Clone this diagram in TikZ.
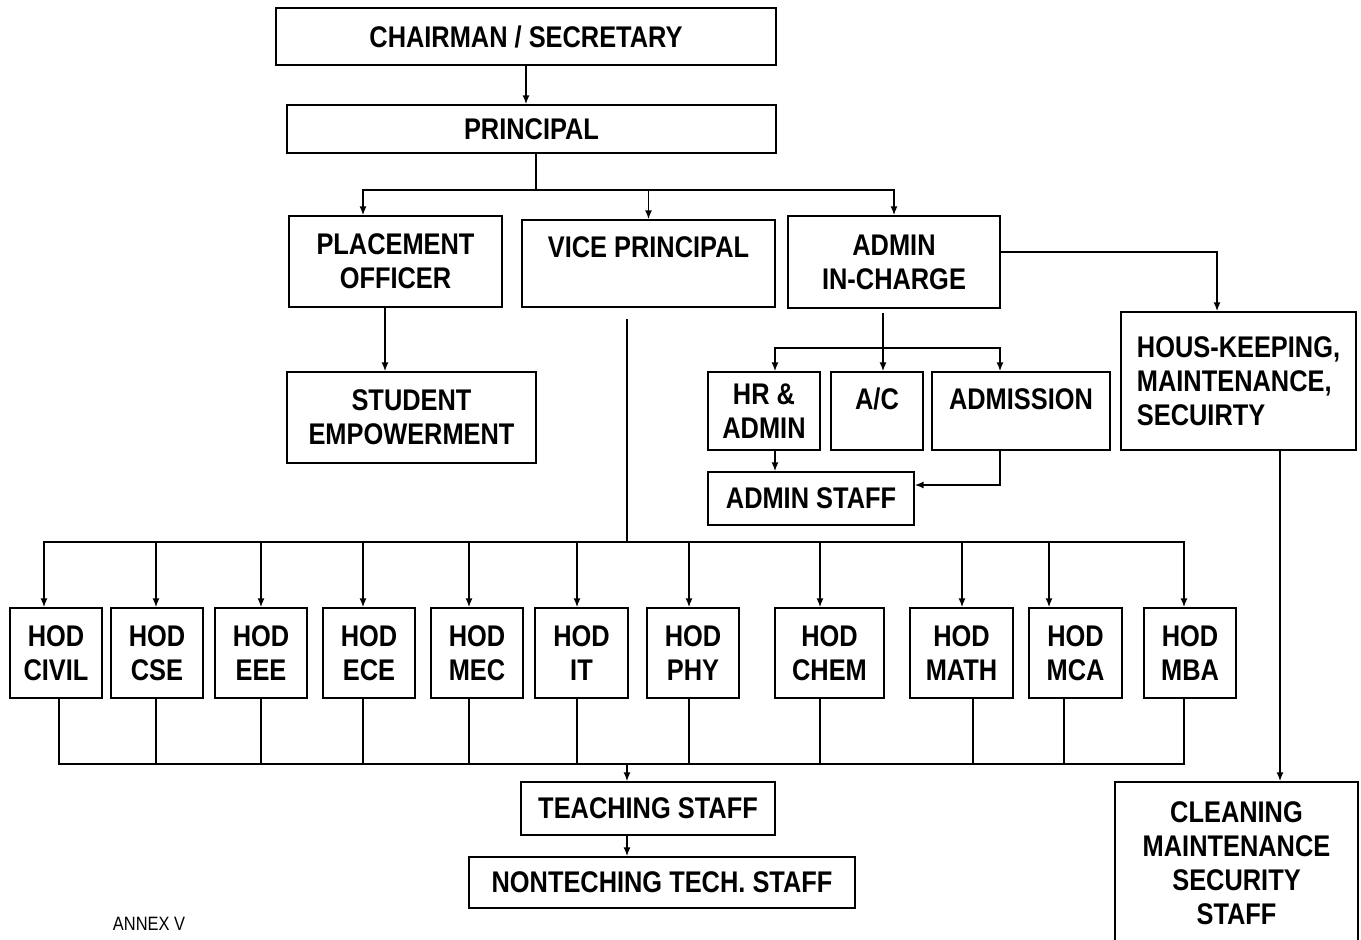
\documentclass[tikz,border=0pt]{standalone}
\usepackage{fontspec}
\newfontfamily\orgfont{Liberation Sans}[FakeStretch=0.85]
\usetikzlibrary{arrows.meta,calc}
\newcommand{\pxu}{0.02cm}
\tikzset{
    box/.style={draw, line width=1pt, inner sep=0pt, align=center, font=\orgfont\bfseries\fontsize{17}{19.3}\selectfont},
    sz/.style 2 args={minimum width=#1*\pxu, minimum height=#2*\pxu},
    line/.style={line width=0.8pt},
    arr/.style={line width=0.8pt, -{Latex[length=5pt,width=4pt]}},
}
\begin{document}
\begin{tikzpicture}[x=0.02cm, y=-0.02cm]
            \useasboundingbox (0,0) rectangle (1361,939);
            \node[box, sz={500}{57}] (chair) at (526,36.5) {CHAIRMAN / SECRETARY};
            \node[box, sz={489}{48}] (princ) at (531.5,129) {PRINCIPAL};
            \node[box, sz={213}{91}] (place) at (395.5,261.5) {PLACEMENT\\OFFICER};
            \node[box, sz={253}{87}, text height=0.74cm, text depth=1cm] (vice) at (648.5,263.5) {VICE PRINCIPAL};
            \node[box, sz={212}{92}] (admin) at (894,262) {ADMIN\\IN-CHARGE};
            \node[box, sz={235}{138}, align=left] (house) at (1238.5,381) {HOUS-KEEPING,\\MAINTENANCE,\\SECUIRTY};
            \node[box, sz={249}{91}] (stud) at (411.5,417.5) {STUDENT\\EMPOWERMENT};
            \node[box, sz={112}{78}] (hr) at (764,411) {HR \&\\ADMIN};
            \node[box, sz={92}{78}, text height=0.74cm, text depth=0.82cm] (ac) at (877,411) {A/C};
            \node[box, sz={178}{78}, text height=0.74cm, text depth=0.82cm] (adms) at (1021,411) {ADMISSION};
            \node[box, sz={206}{53}] (astaff) at (811,498.5) {ADMIN STAFF};
            \node[box, sz={254}{53}] (teach) at (648,808.5) {TEACHING STAFF};
            \node[box, sz={386}{51}] (nontech) at (662,882.5) {NONTECHING TECH. STAFF};
            \node[box, sz={243}{163}] (clean) at (1236.5,863.5) {CLEANING\\MAINTENANCE\\SECURITY\\STAFF};
            \node[font=\orgfont\fontsize{11}{13}\selectfont, inner sep=0pt] (annex) at (149,924) {ANNEX V};

            \draw[arr] (chair.south) -- (chair.south |- princ.north);
            \coordinate (pbus) at (536,190);
            \draw[line] (princ.south -| pbus) -- (pbus);
            \draw[arr] (pbus) -| ($(place.north)+(-32.5,0)$);
            \draw[arr] (pbus) -| (vice.north);
            \draw[arr] (pbus) -| (admin.north);
            \coordinate (plx) at ($(place.south)+(-10.5,0)$);
            \draw[arr] (plx) -- (plx |- stud.north);

            \draw[arr] ($(admin.east)+(0,-10)$) -| ($(house.north)+(-21.5,0)$);
            \coordinate (abus) at (883,348);
            \draw[line] ($(admin.south)+(-11,4)$) -- (abus);
            \draw[arr] (abus) -| ($(hr.north)+(11,0)$);
            \draw[arr] (abus) -- (abus |- ac.north);
            \draw[arr] (abus) -| ($(adms.north)+(-21,0)$);
            \coordinate (hrx) at ($(hr.south)+(11,0)$);
            \draw[arr] (hrx) -- (hrx |- astaff.north);
            \draw[arr] ($(adms.south)+(-21,0)$) |- ($(astaff.east)+(0,-13.5)$);
            \coordinate (hkx) at ($(house.south)+(41.5,0)$);
            \draw[arr] (hkx) -- (hkx |- clean.north);

            \coordinate (hbus) at (627,542);
            \coordinate (tbus) at (627,764);
            \draw[line] ($(vice.south)+(-21.5,11)$) -- (hbus);
            \foreach \nm/\cx/\w/\dep/\din/\dout in {civil/56/92/CIVIL/-12/3, cse/157/92/CSE/-1/-1, eee/261/92/EEE/0/0, ece/369/92/ECE/-6/-6, mec/477/92/MEC/-8/-8, it/581.5/93/IT/-4.5/-4.5, phy/693/92/PHY/-4/-4, chem/829.5/109/CHEM/-9.5/-9.5, math/961.5/103/MATH/0.5/11.5, mca/1075.5/93/MCA/-26.5/-11.5, mba/1190/92/MBA/-6/-6} {
                \node[box, sz={\w}{90}] (\nm) at (\cx,653) {HOD\\\dep};
                \draw[arr] (hbus) -| ($(\nm.north)+(\din,0)$);
                \draw[line] ($(\nm.south)+(\dout,0)$) |- (tbus);
            }
            \draw[arr] (tbus) -- (tbus |- teach.north);
            \draw[arr] (teach.south -| tbus) -- (nontech.north -| tbus);
\end{tikzpicture}
\end{document}
